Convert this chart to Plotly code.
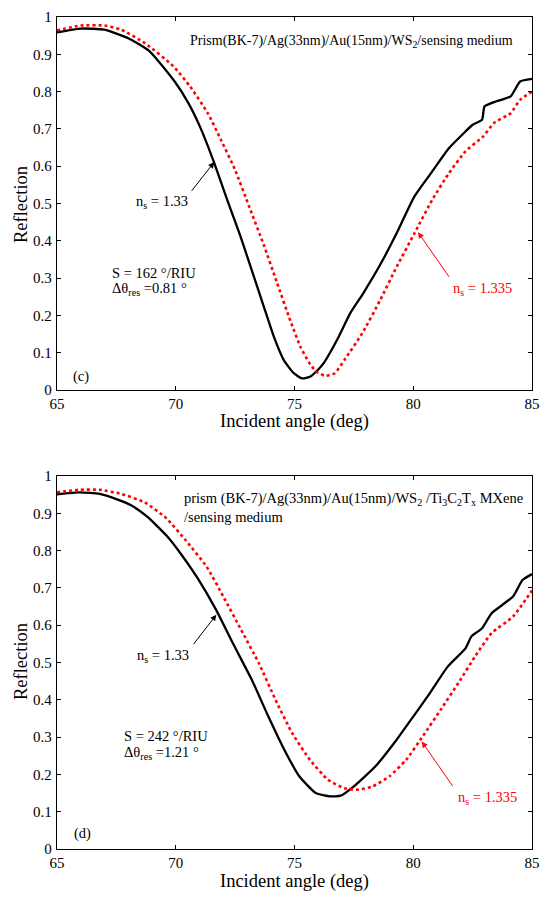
import plotly.graph_objects as go

# ---- data: panel (c) ----
c_black_x = [65, 66, 67, 68, 68.9, 70, 70.55, 71.06, 71.6, 72.17, 72.73, 73.29, 73.71, 74.13, 74.55, 74.97, 75.32, 75.67, 76.0, 76.23, 76.79, 77.35, 77.9, 78.6, 79.3, 80.05, 80.8, 81.5, 82.2, 82.5, 82.9, 83.0, 83.5, 84.1, 84.5, 85]
c_black_y = [0.959, 0.969, 0.966, 0.943, 0.908, 0.823, 0.767, 0.70, 0.612, 0.509, 0.411, 0.304, 0.223, 0.143, 0.080, 0.045, 0.031, 0.036, 0.055, 0.072, 0.134, 0.206, 0.26, 0.335, 0.42, 0.519, 0.586, 0.648, 0.693, 0.711, 0.725, 0.76, 0.774, 0.787, 0.827, 0.834]
c_red_x = [65, 66, 67, 67.7, 68.7, 69.9, 70.6, 71.35, 71.9, 72.5, 73.1, 73.7, 74.25, 74.83, 75.25, 75.6, 75.9, 76.3, 76.7, 77.15, 77.85, 78.6, 79.3, 80.05, 80.8, 81.5, 82.2, 82.95, 83.4, 84.1, 84.5, 85]
c_red_y = [0.964, 0.977, 0.977, 0.966, 0.93, 0.868, 0.814, 0.742, 0.671, 0.59, 0.49, 0.39, 0.29, 0.185, 0.116, 0.075, 0.05, 0.038, 0.045, 0.085, 0.152, 0.24, 0.33, 0.42, 0.51, 0.581, 0.64, 0.68, 0.716, 0.742, 0.778, 0.8]

# ---- data: panel (d) ----
d_black_x = [65, 65.95, 66.8, 67.5, 68.1, 68.8, 69.6, 70.15, 70.9, 71.7, 72.4, 73.2, 73.9, 74.5, 75.2, 75.9, 76.5, 76.95, 77.5, 78.4, 79.3, 80.0, 80.7, 81.45, 82.2, 82.45, 82.9, 83.3, 84.2, 84.6, 85]
d_black_y = [0.951, 0.956, 0.952, 0.938, 0.922, 0.891, 0.841, 0.797, 0.728, 0.641, 0.552, 0.454, 0.355, 0.275, 0.195, 0.15, 0.141, 0.143, 0.168, 0.221, 0.293, 0.355, 0.418, 0.489, 0.538, 0.57, 0.592, 0.632, 0.677, 0.721, 0.737]
d_red_x = [65, 65.95, 66.8, 67.7, 68.7, 69.6, 70.4, 71.3, 72.0, 72.75, 73.5, 74.2, 74.9, 75.65, 76.4, 77.1, 77.7, 78.3, 79.0, 79.7, 80.4, 81.15, 81.9, 82.6, 83.3, 84.2, 85]
d_red_y = [0.956, 0.963, 0.963, 0.952, 0.929, 0.887, 0.829, 0.757, 0.677, 0.588, 0.498, 0.4, 0.311, 0.239, 0.186, 0.163, 0.159, 0.168, 0.195, 0.239, 0.302, 0.373, 0.445, 0.516, 0.579, 0.623, 0.693]

x_ticks = [65, 70, 75, 80, 85]
y_ticks = [0, 0.1, 0.2, 0.3, 0.4, 0.5, 0.6, 0.7, 0.8, 0.9, 1]
y_tick_text = ["0", "0.1", "0.2", "0.3", "0.4", "0.5", "0.6", "0.7", "0.8", "0.9", "1"]

FONT = "Liberation Serif, Times New Roman, serif"
RED = "#ff0000"

fig = go.Figure()
for xs, ys, xa, ya in [(c_black_x, c_black_y, "x", "y"), (d_black_x, d_black_y, "x2", "y2")]:
    fig.add_trace(go.Scatter(x=xs, y=ys, mode="lines", xaxis=xa, yaxis=ya,
                             line=dict(color="black", width=2.3, shape="spline", smoothing=0.5),
                             showlegend=False))
for xs, ys, xa, ya in [(c_red_x, c_red_y, "x", "y"), (d_red_x, d_red_y, "x2", "y2")]:
    fig.add_trace(go.Scatter(x=xs, y=ys, mode="lines", xaxis=xa, yaxis=ya,
                             line=dict(color=RED, width=2.6, dash="dot", shape="spline", smoothing=0.5),
                             showlegend=False))

axis_common = dict(showline=True, linecolor="black", linewidth=1.3, mirror="ticks",
                   ticks="inside", ticklen=4, tickcolor="black", showgrid=False, zeroline=False,
                   automargin=False,
                   tickfont=dict(family=FONT, size=15, color="black"))

xt = dict(axis_common, range=[65, 85], tickvals=x_ticks)
yt = dict(axis_common, range=[0, 1], tickvals=y_ticks, ticktext=y_tick_text, ticklabelstandoff=1)

# plot areas: top 17..390 px, bottom 476..849 px; x 57..532 px
H = 900
L, R = 57, 9
T, B = 17, 51
ph = H - T - B
pw = 541 - L - R
fig.update_layout(
    width=541, height=900,
    margin=dict(l=L, r=R, t=T, b=B),
    paper_bgcolor="white", plot_bgcolor="white",
    xaxis=dict(xt, domain=[0, 1], anchor="y"),
    yaxis=dict(yt, domain=[(849 - 390) / ph, 1.0], anchor="x"),
    xaxis2=dict(xt, domain=[0, 1], anchor="y2"),
    yaxis2=dict(yt, domain=[0.0, (849 - 476) / ph], anchor="x2"),
    font=dict(family=FONT, color="black"),
)

def txt(x, y, text, xr, yr, color="black", size=14.5, xanchor="left"):
    fig.add_annotation(x=x, y=y, xref=xr, yref=yr, text=text, showarrow=False,
                       xanchor=xanchor, yanchor="middle", align="left",
                       font=dict(family=FONT, size=size, color=color))

def arrow(x, y, ax, ay, xr, yr, color="black"):
    fig.add_annotation(x=x, y=y, ax=ax, ay=ay, xref=xr, yref=yr, axref=xr, ayref=yr,
                       text="", showarrow=True, arrowhead=2, arrowsize=1.2, arrowwidth=1,
                       arrowcolor=color)

def paper_y(py):
    return (H - B - py) / ph

def paper_x(px):
    return (px - L) / pw

# axis titles (as annotations)
for py_title, py_xtitle in [(205, 421), (662, 881)]:
    fig.add_annotation(x=paper_x(21), y=paper_y(py_title), xref="paper", yref="paper",
                       xanchor="center", yanchor="middle",
                       text="Reflection", textangle=-90, showarrow=False,
                       font=dict(family=FONT, size=18.5, color="black"))
    fig.add_annotation(x=paper_x(294), y=paper_y(py_xtitle), xref="paper", yref="paper",
                       text="Incident angle (deg)", showarrow=False, yanchor="middle",
                       font=dict(family=FONT, size=18.5, color="black"))

# panel (c)
txt(70.5, 0.935, "Prism(BK-7)/Ag(33nm)/Au(15nm)/WS<sub>2</sub>/sensing medium", "x", "y", size=14)
txt(70.62, 0.505, "n<sub>s</sub> = 1.33", "x", "y", xanchor="right")
arrow(71.62, 0.611, 70.62, 0.53, "x", "y")
txt(67.25, 0.315, "S = 162 °/RIU", "x", "y")
txt(67.25, 0.27, "Δθ<sub>res</sub> =0.81 °", "x", "y")
txt(81.59, 0.272, "n<sub>s</sub> = 1.335", "x", "y", color=RED)
arrow(80.2, 0.423, 81.55, 0.3, "x", "y", color=RED)
txt(65.61, 0.036, "(c)", "x", "y")

# panel (d)
txt(70.26, 0.916, "prism (BK-7)/Ag(33nm)/Au(15nm)/WS<sub>2</sub> /Ti<sub>3</sub>C<sub>2</sub>T<sub>x</sub> MXene<br>/sensing medium", "x2", "y2", size=14.5)
txt(70.64, 0.517, "n<sub>s</sub> = 1.33", "x2", "y2", xanchor="right")
arrow(71.71, 0.628, 70.7, 0.545, "x2", "y2")
txt(67.72, 0.302, "S = 242 °/RIU", "x2", "y2")
txt(67.72, 0.257, "Δθ<sub>res</sub> =1.21 °", "x2", "y2")
txt(81.78, 0.136, "n<sub>s</sub> = 1.335", "x2", "y2", color=RED)
arrow(80.36, 0.288, 81.7, 0.165, "x2", "y2", color=RED)
txt(65.65, 0.041, "(d)", "x2", "y2")

fig.write_html("out.html", config={"displayModeBar": False},
               post_script="document.body.style.margin='0';")
